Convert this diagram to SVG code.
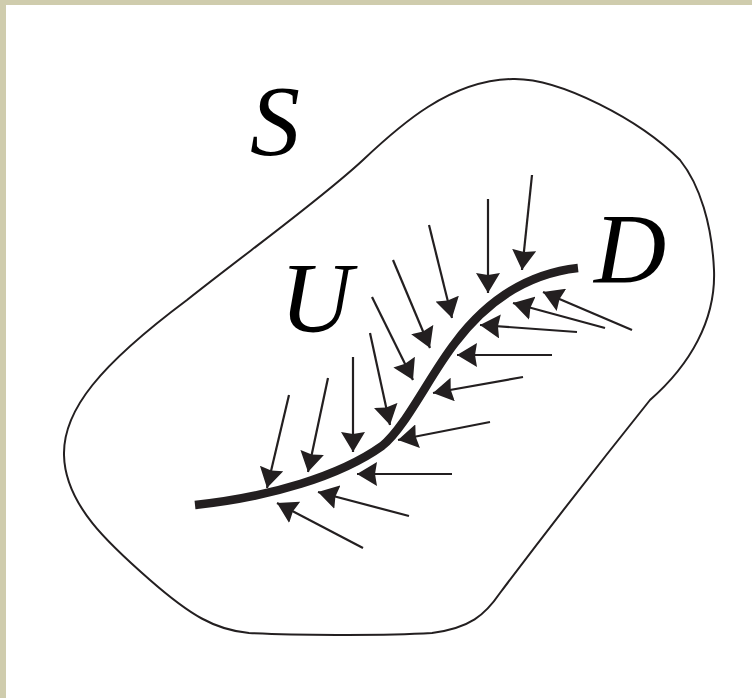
<svg xmlns="http://www.w3.org/2000/svg" width="752" height="698" viewBox="0 0 752 698">
<style>
.frame{fill:#cfccad}
.outline{fill:none;stroke:#231f20;stroke-width:2}
.crack{fill:none;stroke:#231f20;stroke-width:8.5}
.arr{stroke:#231f20;stroke-width:2.2;fill:none;marker-end:url(#ah)}
.lbl{font-family:"Liberation Serif","Times New Roman",serif;font-style:italic;font-size:100px;fill:#000}
</style>
<defs>
<marker id="ah" markerUnits="userSpaceOnUse" viewBox="0 0 20 24" refX="20" refY="12" markerWidth="20" markerHeight="24" orient="auto">
<path d="M0,0 L20,12 L0,24 L2,12 z" fill="#231f20"/>
</marker>
</defs>
<rect width="752" height="698" fill="#fff"/>
<rect class="frame" x="0" y="0" width="752" height="5"/>
<rect class="frame" x="0" y="0" width="6" height="698"/>
<g id="S">
<path class="outline" d="M513,79 C560,78 640,120 680,160 C700,185 712,225 714,270 C716,320 690,365 650,400 C610,450 540,540 500,593 C485,615 470,628 432,633 C380,636 290,635 249,633 C215,630 190,615 150,580 C110,545 65,505 64,455 C63,410 100,365 187,300 C250,250 320,200 363,160 C400,125 450,80 513,79 Z"/>
<text class="lbl" x="250" y="154">S</text>
</g>
<g id="crack">
<path class="crack" d="M195,505 C270,497 340,476 382,446 C405,428 430,375 455,343 C485,303 525,274 578,268"/>
<text class="lbl" x="280" y="331">U</text>
<text class="lbl" x="594" y="282">D</text>
</g>
<g id="connectors">
<line class="arr" x1="289" y1="395" x2="267" y2="488"/>
<line class="arr" x1="328" y1="378" x2="308" y2="472"/>
<line class="arr" x1="353" y1="357" x2="353" y2="452"/>
<line class="arr" x1="370" y1="333" x2="390" y2="425"/>
<line class="arr" x1="372" y1="297" x2="413" y2="380"/>
<line class="arr" x1="393" y1="260" x2="430" y2="348"/>
<line class="arr" x1="429" y1="225" x2="452" y2="318"/>
<line class="arr" x1="488" y1="199" x2="488" y2="293"/>
<line class="arr" x1="532" y1="175" x2="522" y2="270"/>
<line class="arr" x1="363" y1="548" x2="277" y2="503"/>
<line class="arr" x1="409" y1="516" x2="318" y2="492"/>
<line class="arr" x1="452" y1="474" x2="357" y2="474"/>
<line class="arr" x1="490" y1="422" x2="398" y2="440"/>
<line class="arr" x1="523" y1="377" x2="433" y2="393"/>
<line class="arr" x1="552" y1="355" x2="457" y2="355"/>
<line class="arr" x1="577" y1="332" x2="480" y2="325"/>
<line class="arr" x1="605" y1="328" x2="513" y2="303"/>
<line class="arr" x1="632" y1="330" x2="543" y2="292"/>
</g>
</svg>
